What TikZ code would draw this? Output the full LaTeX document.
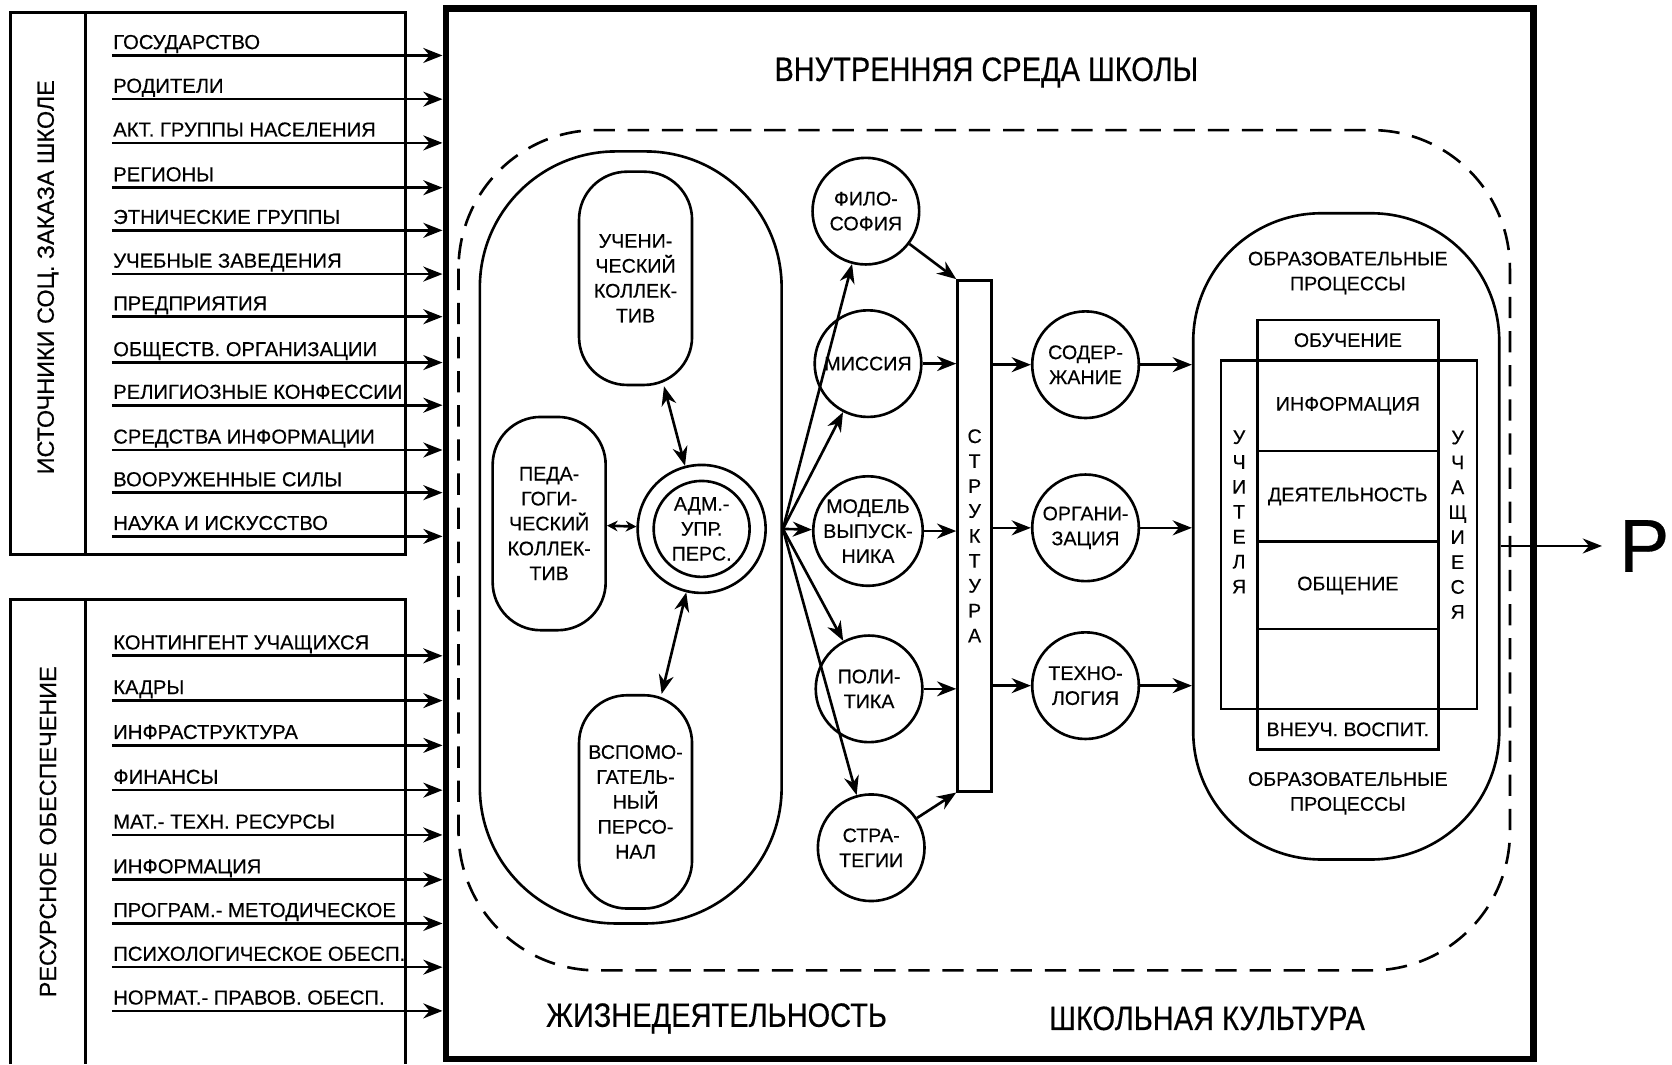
\documentclass[tikz,border=0pt]{standalone}
\usepackage{fontspec}
\setmainfont{Liberation Sans}[FakeBold=0.4]
\newfontfamily\narrowfont{Liberation Sans}[FakeStretch=0.86,FakeBold=0.4]
\usetikzlibrary{arrows.meta,calc}

\begin{document}
\begin{tikzpicture}[x=0.2mm,y=-0.2mm,line width=1.4pt,>={Stealth[length=3.6mm,width=2.8mm]},
  item/.style={anchor=base west,inner sep=0pt,font=\fontsize{10.8}{13}\selectfont},
  side/.style={rotate=90,inner sep=0pt,font=\fontsize{12.5}{15}\selectfont},
  topic/.style={draw,circle,minimum size=20mm,inner sep=0pt,align=center,font=\fontsize{10.5}{13.3}\selectfont},
  pill/.style={draw,rounded corners=9mm,minimum width=21.2mm,minimum height=40mm,inner sep=0pt,align=center,font=\fontsize{10.5}{13.3}\selectfont},
  row/.style={draw,minimum width=34mm,inner sep=0pt,font=\fontsize{10.5}{13.3}\selectfont},
  stack/.style={align=center,inner sep=0pt,font=\fontsize{10.5}{13.3}\selectfont},
  big/.style={inner sep=0pt,font=\narrowfont\fontsize{18}{20}\selectfont}]
  \useasboundingbox (0,0) rectangle (1568,998);

  \node[draw,line width=1.2mm,minimum width=204mm,minimum height=197mm,inner sep=0pt] (school) at (928,500.5) {};
  \node[big] (inner) at (925,68) {ВНУТРЕННЯЯ СРЕДА ШКОЛЫ};
  \node[big] (life) at (672,955) {ЖИЗНЕДЕЯТЕЛЬНОСТЬ};
  \node[big] (culture) at (1132,955) {ШКОЛЬНАЯ КУЛЬТУРА};
  \draw[dash pattern=on 4mm off 2.4mm,rounded corners=26mm] (430,122) rectangle (1416,910);

  \draw (10,12) rectangle (380,520);
  \draw (80,12) -- (80,520);
  \node[side] (order) at (45,260) {ИСТОЧНИКИ СОЦ. ЗАКАЗА ШКОЛЕ};
  \foreach \y/\t [count=\i] in {52/ГОСУДАРСТВО,93/РОДИТЕЛИ,134/АКТ. ГРУППЫ НАСЕЛЕНИЯ,176/РЕГИОНЫ,216/ЭТНИЧЕСКИЕ ГРУППЫ,257/УЧЕБНЫЕ ЗАВЕДЕНИЯ,297/ПРЕДПРИЯТИЯ,340/ОБЩЕСТВ. ОРГАНИЗАЦИИ,380/РЕЛИГИОЗНЫЕ КОНФЕССИИ,422/СРЕДСТВА ИНФОРМАЦИИ,462/ВООРУЖЕННЫЕ СИЛЫ,503/НАУКА И ИСКУССТВО}{
    \coordinate (ord\i) at (105,\y);
    \node[item] (ordl\i) at ([yshift=1.2mm]ord\i) {\t};
    \draw[->] (ord\i) -- (ord\i -| school.west);
  }
  \draw (10,998) |- (380,562) -- (380,998);
  \draw (80,562) -- (80,998);
  \node[side] (supply) at (45,780) {РЕСУРСНОЕ ОБЕСПЕЧЕНИЕ};
  \foreach \y/\t [count=\i] in {615/КОНТИНГЕНТ УЧАЩИХСЯ,657/КАДРЫ,699/ИНФРАСТРУКТУРА,741/ФИНАНСЫ,783/МАТ.- ТЕХН. РЕСУРСЫ,825/ИНФОРМАЦИЯ,866/ПРОГРАМ.- МЕТОДИЧЕСКОЕ,907/ПСИХОЛОГИЧЕСКОЕ ОБЕСП.,948/НОРМАТ.- ПРАВОВ. ОБЕСП.}{
    \coordinate (res\i) at (105,\y);
    \node[item] (resl\i) at ([yshift=1.2mm]res\i) {\t};
    \draw[->] (res\i) -- (res\i -| school.west);
  }

  \node[draw,rounded corners=25.5mm,minimum width=56.6mm,minimum height=144.8mm] (lifebox) at (591.5,504) {};
  \node[pill] (stud) at (596,261) {УЧЕНИ-\\ЧЕСКИЙ\\КОЛЛЕК-\\ТИВ};
  \node[pill] (ped) at (515,491) {ПЕДА-\\ГОГИ-\\ЧЕСКИЙ\\КОЛЛЕК-\\ТИВ};
  \node[pill] (aux) at (596,752) {ВСПОМО-\\ГАТЕЛЬ-\\НЫЙ\\ПЕРСО-\\НАЛ};
  \node[topic,minimum size=24mm] (adm) at (658,496) {};
  \draw (adm.center) circle[radius=9mm];
  \node[stack] at (adm) {АДМ.-\\УПР.\\ПЕРС.};
  \draw[<->] (stud) -- (adm);
  \draw[<->] (aux) -- (adm);
  \draw[<->,>={Stealth[length=2mm,width=2mm]}] (ped) -- (adm);

  \coordinate (fan) at (lifebox.east |- adm);
  \node[topic] (filo) at (812,198) {ФИЛО-\\СОФИЯ};
  \node[topic] (mis) at (814,341) {МИССИЯ};
  \node[topic] (model) at (814,498) {МОДЕЛЬ\\ВЫПУСК-\\НИКА};
  \node[topic] (pol) at (815,646) {ПОЛИ-\\ТИКА};
  \node[topic] (strat) at (817,795) {СТРА-\\ТЕГИИ};
  \foreach \n in {filo,mis,model,pol,strat}{\draw[->] (fan) -- (\n);}

  \node[draw,minimum width=6.4mm,minimum height=95.8mm,stack] (bar) at (914,502.5) {С\\Т\\Р\\У\\К\\Т\\У\\Р\\А};
  \draw[->] (filo) -- (bar.north west);
  \foreach \n in {mis,model,pol}{\draw[->] (\n) -- (\n -| bar.west);}
  \draw[->] (strat) -- (bar.south west);

  \node[draw,rounded corners=24mm,minimum width=57.4mm,minimum height=121.2mm] (proc) at (1262.5,503) {};
  \node[topic] (cont) at (1018,342) {СОДЕР-\\ЖАНИЕ};
  \node[topic] (org) at (1018,495) {ОРГАНИ-\\ЗАЦИЯ};
  \node[topic] (tech) at (1018,643) {ТЕХНО-\\ЛОГИЯ};
  \foreach \n in {cont,org,tech}{
    \draw[->] (bar.east |- \n) -- (\n);
    \draw[->] (\n) -- (\n -| proc.west);
  }

  \node[stack] (ptop) at (1264,256) {ОБРАЗОВАТЕЛЬНЫЕ\\ПРОЦЕССЫ};
  \node[stack] (pbot) at (1264,744) {ОБРАЗОВАТЕЛЬНЫЕ\\ПРОЦЕССЫ};
  \node[draw,minimum width=48mm,minimum height=65.4mm] (wide) at (1265,501.5) {};
  \node[row,minimum height=7.6mm] (r1) at (1264,319) {ОБУЧЕНИЕ};
  \node[row,minimum height=17mm] (r2) at (1264,380.5) {ИНФОРМАЦИЯ};
  \node[row,minimum height=17mm] (r3) at (1264,465.5) {ДЕЯТЕЛЬНОСТЬ};
  \node[row,minimum height=16.4mm] (r4) at (1264,549) {ОБЩЕНИЕ};
  \node[row,minimum height=15mm] (r5) at (1264,627.5) {};
  \node[row,minimum height=7.6mm] (r6) at (1264,684) {ВНЕУЧ. ВОСПИТ.};
  \node[stack] (teach) at (1162,480) {У\\Ч\\И\\Т\\Е\\Л\\Я};
  \node[stack] (pupils) at (1367,492) {У\\Ч\\А\\Щ\\И\\Е\\С\\Я};

  \node[inner sep=0pt,font=\fontsize{40}{40}\selectfont] (result) at (1542,512) {Р};
  \draw[->,shorten >=3mm] (proc.east |- result) -- (result.west);
\end{tikzpicture}
\end{document}
